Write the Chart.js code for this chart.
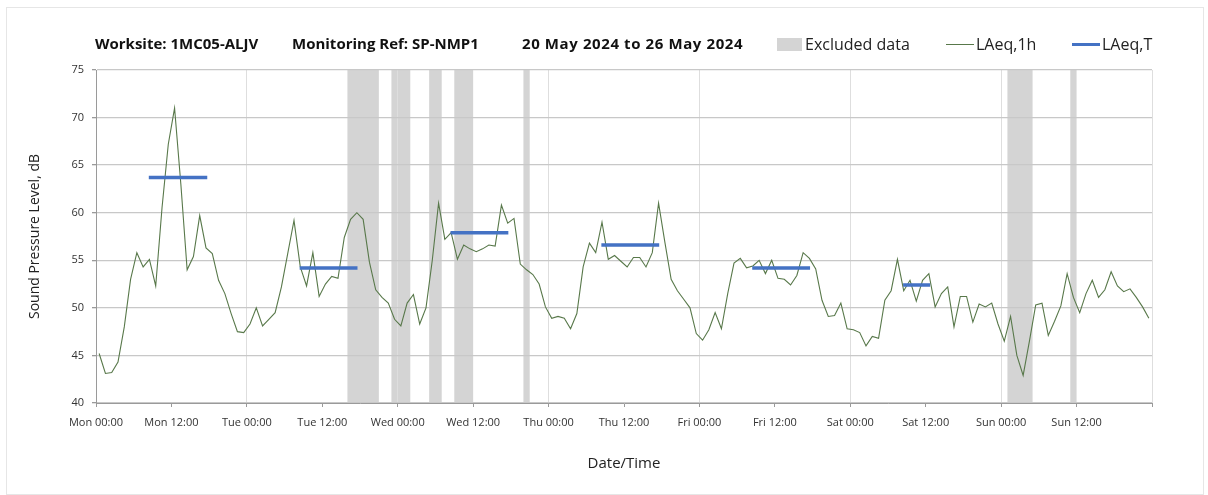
<!DOCTYPE html>
<html><head><meta charset="utf-8">
<script src="https://cdn.jsdelivr.net/npm/chart.js@4.4.0/dist/chart.umd.min.js"></script>
<style>
html,body{margin:0;padding:0;background:#fff;}
#wrap{position:relative;width:1208px;height:495px;overflow:hidden;background:#fff;}
#frame{position:absolute;left:6px;top:7px;width:1196px;height:486px;border:1px solid #e6e6e6;}
canvas{position:absolute;left:0;top:0;}
.t{position:absolute;font-family:"Open Sans",sans-serif;color:#111;white-space:nowrap;line-height:20px;}
.ttl{font-weight:bold;font-size:15px;top:33px;}
.lg{font-size:16px;top:34px;color:#222;}
.sw{position:absolute;}
</style></head>
<body><div id="wrap"><div id="frame"></div>
<canvas id="c" width="1208" height="495"></canvas>
<div class="t ttl" style="left:95px">Worksite: 1MC05-ALJV</div>
<div class="t ttl" style="left:292px">Monitoring Ref: SP-NMP1</div>
<div class="t ttl" style="left:522px;letter-spacing:0.6px">20 May 2024 to 26 May 2024</div>
<div class="sw" style="left:777px;top:38px;width:25px;height:13px;background:#d4d4d4"></div>
<div class="t lg" style="left:805px">Excluded data</div>
<div class="sw" style="left:946px;top:44px;width:28px;height:1px;background:#58784a"></div>
<div class="t lg" style="left:976px">LAeq,1h</div>
<div class="sw" style="left:1072px;top:43px;width:28px;height:3px;background:#4472c4"></div>
<div class="t lg" style="left:1102px">LAeq,T</div>
</div>
<script>
// Hourly LAeq,1h values (dB), one per hour from Mon 00:00, plotted at the middle of each hour
const laeq1h = [
  45.2, 43.1, 43.2, 44.3, 48.0, 53.0, 55.8, 54.3, 55.1, 52.3, 60.5, 67.2, 71.0, 63.0, 54.0, 55.4, 59.7, 56.3, 55.7, 52.9, 51.5, 49.4, 47.5, 47.4,
  48.3, 50.0, 48.1, 48.8, 49.5, 52.2, 55.7, 59.2, 54.3, 52.3, 55.8, 51.2, 52.5, 53.3, 53.1, 57.4, 59.3, 60.0, 59.3, 54.8, 51.9, 51.1, 50.5, 48.8,
  48.1, 50.5, 51.4, 48.3, 50.0, 55.0, 61.0, 57.2, 57.9, 55.1, 56.6, 56.2, 55.9, 56.2, 56.6, 56.5, 60.8, 58.9, 59.4, 54.6, 54.0, 53.5, 52.5, 50.1,
  48.9, 49.1, 48.9, 47.8, 49.4, 54.3, 56.8, 55.8, 59.0, 55.1, 55.5, 54.9, 54.3, 55.3, 55.3, 54.3, 55.8, 61.0, 56.9, 53.0, 51.8, 50.9, 50.0, 47.3,
  46.6, 47.7, 49.5, 47.8, 51.5, 54.7, 55.2, 54.2, 54.4, 55.0, 53.6, 55.0, 53.1, 53.0, 52.4, 53.4, 55.8, 55.2, 54.1, 50.8, 49.1, 49.2, 50.5, 47.8,
  47.7, 47.4, 46.0, 47.0, 46.8, 50.8, 51.8, 55.1, 51.8, 52.9, 50.7, 52.9, 53.6, 50.1, 51.5, 52.2, 48.0, 51.2, 51.2, 48.5, 50.4, 50.1, 50.5, 48.3,
  46.5, 49.1, 45.0, 42.9, 46.5, 50.3, 50.5, 47.1, 48.6, 50.2, 53.6, 51.1, 49.5, 51.5, 52.9, 51.1, 51.9, 53.8, 52.3, 51.7, 52.0, 51.1, 50.1, 48.9
];
// LAeq,T period values (hours from Mon 00:00)
const tStart = [8.4, 32.4, 56.4, 80.4, 104.4, 128.4];
const tEnd   = [17.7, 41.6, 65.6, 89.6, 113.6, 132.7];
const tValue = [63.7, 54.2, 57.9, 56.6, 54.2, 52.4];
// Excluded data periods (hours from Mon 00:00)
const excludedStart = [40, 47, 53, 57, 68, 145, 155];
const excludedEnd   = [45, 50, 55, 60, 69, 149, 156];
// Axis tick labels (every 12 h)
const xTickLabels = ['Mon 00:00','Mon 12:00','Tue 00:00','Tue 12:00','Wed 00:00','Wed 12:00','Thu 00:00','Thu 12:00','Fri 00:00','Fri 12:00','Sat 00:00','Sat 12:00','Sun 00:00','Sun 12:00',''];
const yMin = 40, yMax = 75, yStep = 5;

const lineData = laeq1h.map((v, i) => ({x: i + 0.5, y: v}));
const tData = [];
tStart.forEach((s, i) => {
  tData.push({x: s, y: tValue[i]}, {x: tEnd[i], y: tValue[i]}, {x: tEnd[i], y: null});
});

const bandPlugin = {
  id: 'excluded',
  beforeDraw(chart) {
    const {ctx, chartArea, scales: {x}} = chart;
    ctx.save();
    ctx.fillStyle = '#d4d4d4';
    excludedStart.forEach((s, i) => {
      const x1 = x.getPixelForValue(s), x2 = x.getPixelForValue(excludedEnd[i]);
      ctx.fillRect(x1, chartArea.top, x2 - x1, chartArea.bottom - chartArea.top);
    });
    ctx.restore();
  }
};

Chart.defaults.font.family = '"Open Sans", sans-serif';
new Chart(document.getElementById('c'), {
  type: 'line',
  data: {
    datasets: [
      {label: 'LAeq,T', data: tData, borderColor: '#4472c4', borderWidth: 3.5, pointRadius: 0, spanGaps: false, borderCapStyle: 'butt'},
      {label: 'LAeq,1h', data: lineData, borderColor: '#58784a', borderWidth: 1.1, pointRadius: 0, tension: 0}
    ]
  },
  options: {
    responsive: false,
    animation: false,
    events: [],
    layout: {padding: {top: 70, right: 56, left: 0, bottom: 0}},
    plugins: {legend: {display: false}, tooltip: {enabled: false}, title: {display: false}},
    scales: {
      x: {
        type: 'linear', min: 0, max: 168,
        afterBuildTicks: (s) => { s.ticks = xTickLabels.map((_, i) => ({value: i * 12})); },
        afterFit: (s) => { s.height = 92; },
        ticks: {autoSkip: false, maxRotation: 0, padding: 9, color: '#333', font: {size: 11},
                callback: (v, i) => xTickLabels[i]},
        grid: {color: (c) => (c.tick && c.tick.value % 24 === 0) ? '#dedede' : 'rgba(0,0,0,0)',
               tickColor: '#9a9a9a', tickLength: 4, lineWidth: 1},
        border: {color: '#9a9a9a', width: 1},
        title: {display: true, text: 'Date/Time', color: '#222', font: {size: 15}, padding: {top: 0, bottom: 22}}
      },
      y: {
        min: yMin, max: yMax,
        afterBuildTicks: (s) => { const t = []; for (let v = yMin; v <= yMax; v += yStep) t.push({value: v}); s.ticks = t; },
        afterFit: (s) => { s.width = 96; },
        ticks: {padding: 8, color: '#333', font: {size: 11}},
        grid: {color: '#c8c8c8', lineWidth: 1.3, tickColor: '#9a9a9a', tickLength: 4},
        border: {color: '#9a9a9a', width: 1},
        title: {display: true, text: 'Sound Pressure Level, dB', color: '#222', font: {size: 14}, padding: {top: 27, bottom: 0}}
      }
    }
  },
  plugins: [bandPlugin]
});
</script>
</body></html>
